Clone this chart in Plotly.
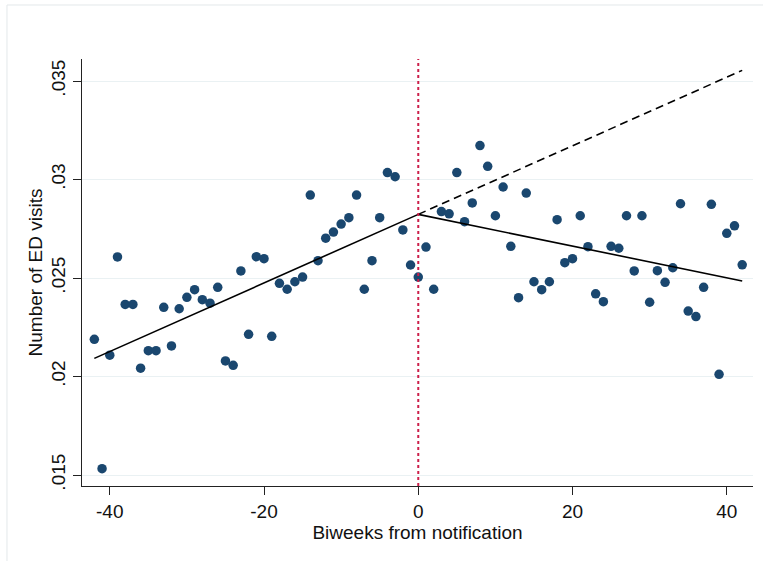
import plotly.graph_objects as go

# Biweeks from notification
biweeks = list(range(-42, 43))

# Number of ED visits (binned means)
ed_visits = [
    0.02189, 0.01532, 0.02108, 0.02607, 0.02366, 0.02366, 0.02042, 0.02131, 0.02131, 0.02351,  # -42..-33
    0.02155, 0.02344, 0.02402, 0.02441, 0.02390, 0.02372, 0.02453, 0.02079, 0.02057, 0.02536,  # -32..-23
    0.02214, 0.02608, 0.02598, 0.02204, 0.02473, 0.02443, 0.02481, 0.02505, 0.02921, 0.02588,  # -22..-13
    0.02702, 0.02733, 0.02774, 0.02806, 0.02921, 0.02443, 0.02588, 0.02806, 0.03035, 0.03014,  # -12..-3
    0.02744, 0.02566, 0.02505, 0.02657, 0.02443, 0.02837, 0.02826, 0.03035, 0.02786, 0.02881,  # -2..7
    0.03172, 0.03067, 0.02816, 0.02962, 0.02661, 0.02400, 0.02931, 0.02481, 0.02441, 0.02481,  # 8..17
    0.02796, 0.02578, 0.02598, 0.02816, 0.02659, 0.02420, 0.02380, 0.02661, 0.02651, 0.02816,  # 18..27
    0.02536, 0.02816, 0.02377, 0.02537, 0.02478, 0.02552, 0.02877, 0.02332, 0.02304, 0.02453,  # 28..37
    0.02874, 0.02011, 0.02727, 0.02765, 0.02567,                                                # 38..42
]

# Fitted trends (endpoints)
pre_fit_x = [-42, 0]
pre_fit_y = [0.02092, 0.02823]
post_fit_x = [0, 42]
post_fit_y = [0.02823, 0.02485]
counterfactual_x = [0, 42]
counterfactual_y = [0.02823, 0.03554]

y_tickvals = [0.015, 0.02, 0.025, 0.03, 0.035]
y_ticktext = [".015", ".02", ".025", ".03", ".035"]
x_tickvals = [-40, -20, 0, 20, 40]
x_ticktext = ["-40", "-20", "0", "20", "40"]

navy = "#1a476f"
font_family = "Liberation Sans, Arial, sans-serif"

fig = go.Figure()

fig.add_trace(go.Scatter(
    x=biweeks, y=ed_visits, mode="markers",
    marker=dict(color=navy, size=9.5, line=dict(width=0)),
    showlegend=False, hoverinfo="x+y",
))
fig.add_trace(go.Scatter(
    x=pre_fit_x, y=pre_fit_y, mode="lines",
    line=dict(color="black", width=1.6), showlegend=False,
))
fig.add_trace(go.Scatter(
    x=post_fit_x, y=post_fit_y, mode="lines",
    line=dict(color="black", width=1.6), showlegend=False,
))
fig.add_trace(go.Scatter(
    x=counterfactual_x, y=counterfactual_y, mode="lines",
    line=dict(color="black", width=1.6, dash="8px,5px"), showlegend=False,
))

# vertical reference line at notification
fig.add_shape(type="line", xref="x", yref="paper", x0=0, x1=0, y0=0, y1=1,
              line=dict(color="#cc1f4a", width=2, dash="3px,3px"), layer="above")

# faint outer graph-region border
fig.add_shape(type="rect", xref="paper", yref="paper",
              x0=-0.1118, x1=1.05, y0=-0.25, y1=1.1265,
              line=dict(color="#e3e8ea", width=1), layer="below")

fig.update_layout(
    width=763, height=561,
    margin=dict(l=82, r=10, t=59, b=75),
    paper_bgcolor="white", plot_bgcolor="white",
    font=dict(family=font_family, size=19, color="#111111"),
    showlegend=False,
)

fig.update_xaxes(
    range=[-43.6, 43.4],
    tickvals=x_tickvals, ticktext=x_ticktext,
    showgrid=False, zeroline=False,
    showline=True, linecolor="#222222", linewidth=1,
    ticks="outside", ticklen=8, tickcolor="#222222", tickwidth=1,
    title=dict(text="Biweeks from notification", standoff=2, font=dict(size=19)),
    tickfont=dict(size=19),
)
fig.update_yaxes(
    range=[0.014442, 0.036117],
    tickvals=y_tickvals, ticktext=y_ticktext,
    tickangle=-90,
    showgrid=True, gridcolor="#eaf1f3", gridwidth=1,
    zeroline=False,
    showline=True, linecolor="#222222", linewidth=1,
    ticks="outside", ticklen=8, tickcolor="#222222", tickwidth=1,
    title=dict(text="Number of ED visits", standoff=0, font=dict(size=19)),
    tickfont=dict(size=19),
)

fig.write_html("out.html")
